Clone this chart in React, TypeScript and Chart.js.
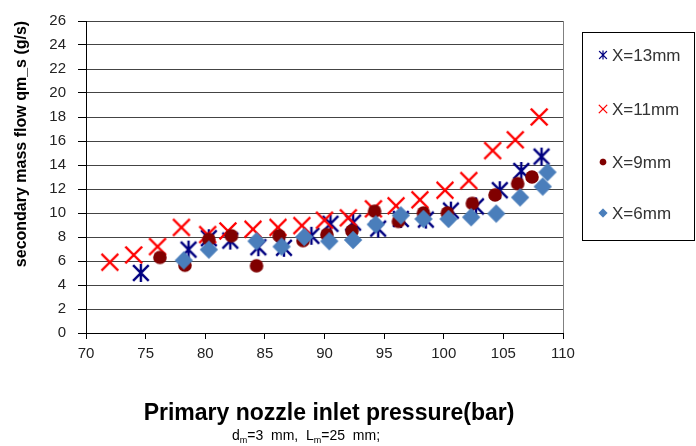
import React, { useEffect, useRef } from "react";
import { Chart, registerables } from "chart.js";
Chart.register(...registerables);

const seriesNames = ["X=13mm", "X=11mm", "X=9mm", "X=6mm"];

const p13 = [74.6, 78.6, 80.3, 82.1, 84.45, 86.6, 88.9, 90.5, 92.4, 94.5, 96.4, 98.5, 100.6, 102.7, 104.7, 106.5, 108.2];
const q13 = [5.0, 6.95, 7.9, 7.7, 7.15, 7.1, 8.1, 9.1, 9.2, 8.7, 9.5, 9.45, 10.2, 10.55, 11.9, 13.5, 14.7];

const p11 = [72.0, 74.0, 76.0, 78.0, 80.2, 81.9, 84.0, 86.1, 88.1, 90.0, 92.0, 94.1, 96.0, 98.0, 100.1, 102.1, 104.1, 106.0, 108.0];
const q11 = [5.9, 6.5, 7.2, 8.8, 8.2, 8.5, 8.65, 8.8, 8.95, 9.4, 9.6, 10.35, 10.6, 11.1, 11.9, 12.7, 15.2, 16.1, 18.0];

const p9 = [76.2, 78.3, 80.3, 82.2, 84.3, 86.2, 88.2, 90.2, 92.3, 94.2, 96.2, 98.3, 100.3, 102.4, 104.3, 106.2, 107.4];
const q9 = [6.3, 5.65, 7.8, 8.1, 5.6, 8.1, 7.7, 8.2, 8.5, 10.15, 9.3, 10.0, 10.0, 10.8, 11.5, 12.45, 13.0];

const p6 = [78.2, 80.3, 84.3, 86.4, 88.3, 90.4, 92.4, 94.3, 96.4, 98.3, 100.4, 102.3, 104.4, 106.4, 108.3, 108.7];
const q6 = [6.05, 6.95, 7.65, 7.2, 8.0, 7.65, 7.75, 9.05, 9.8, 9.5, 9.5, 9.65, 9.95, 11.3, 12.2, 13.4];

const xMin = 70, xMax = 110, xStep = 5;
const yMin = 0, yMax = 26, yStep = 2;

const yTitle = "secondary mass flow qm_s (g/s)";
const xTitle = "Primary nozzle inlet pressure(bar)";
const subParts: [string, boolean][] = [["d", false], ["m", true], ["=3  mm,  L", false], ["m", true], ["=25  mm;", false]];

const FONT = "'Liberation Sans', Arial, sans-serif";
const NAVY = "#000080";
const RED = "#FF0000";
const MAROON = "#800000";
const STEEL = "#4A7EBB";

function makeMarker(kind: string, size: number): HTMLCanvasElement {
  const c = document.createElement("canvas");
  c.width = size;
  c.height = size;
  const g = c.getContext("2d")!;
  const m = size / 2;
  if (kind === "star") {
    g.strokeStyle = NAVY;
    g.lineWidth = size * 0.12;
    const a = size * 0.39;
    g.beginPath();
    g.moveTo(m - a, m - a); g.lineTo(m + a, m + a);
    g.moveTo(m + a, m - a); g.lineTo(m - a, m + a);
    g.moveTo(m, m - a * 1.15); g.lineTo(m, m + a * 1.15);
    g.stroke();
  } else if (kind === "x") {
    g.strokeStyle = RED;
    g.lineWidth = size * 0.11;
    const a = size * 0.42;
    g.beginPath();
    g.moveTo(m - a, m - a); g.lineTo(m + a, m + a);
    g.moveTo(m + a, m - a); g.lineTo(m - a, m + a);
    g.stroke();
  } else if (kind === "circle") {
    g.fillStyle = MAROON;
    g.beginPath();
    g.arc(m, m, size * 0.34, 0, Math.PI * 2);
    g.fill();
  } else {
    g.fillStyle = STEEL;
    const a = size * 0.46;
    g.beginPath();
    g.moveTo(m, m - a); g.lineTo(m + a, m); g.lineTo(m, m + a); g.lineTo(m - a, m);
    g.closePath();
    g.fill();
  }
  return c;
}

export default function App() {
  const ref = useRef<HTMLCanvasElement>(null);
  useEffect(() => {
    const kinds = ["star", "x", "circle", "diamond"];
    const big = kinds.map((k) => makeMarker(k, 20));
    const pairs = [[p13, q13], [p11, q11], [p9, q9], [p6, q6]];
    const decor = {
      id: "decor",
      afterDraw(chart: any) {
        const ctx = chart.ctx;
        const ca = chart.chartArea;
        ctx.save();
        ctx.strokeStyle = "#808080";
        ctx.lineWidth = 1;
        ctx.beginPath();
        ctx.moveTo(Math.round(ca.right) + 0.5, ca.top);
        ctx.lineTo(Math.round(ca.right) + 0.5, ca.bottom);
        ctx.stroke();

        ctx.fillStyle = "#000";
        ctx.save();
        ctx.translate(22, 144);
        ctx.rotate(-Math.PI / 2);
        ctx.font = `bold 16px ${FONT}`;
        ctx.textAlign = "center";
        ctx.textBaseline = "middle";
        ctx.fillText(yTitle, 0, 0);
        ctx.restore();

        ctx.font = `bold 23px ${FONT}`;
        ctx.textAlign = "center";
        ctx.textBaseline = "alphabetic";
        ctx.fillText(xTitle, 329, 420);

        const mainF = `14px ${FONT}`;
        const subF = `9px ${FONT}`;
        let total = 0;
        for (const [t, s] of subParts) {
          ctx.font = s ? subF : mainF;
          total += ctx.measureText(t).width;
        }
        let x = 306 - total / 2;
        ctx.textAlign = "left";
        for (const [t, s] of subParts) {
          ctx.font = s ? subF : mainF;
          ctx.fillText(t, x, s ? 443 : 440);
          x += ctx.measureText(t).width;
        }

        ctx.strokeStyle = "#000";
        ctx.strokeRect(582.5, 32.5, 112, 208);
        const rows = [55, 109, 162, 213];
        ctx.font = `17px ${FONT}`;
        ctx.fillStyle = "#333";
        ctx.textBaseline = "middle";
        rows.forEach((ry, i) => {
          ctx.drawImage(big[i], 603 - 5, ry - 5, 10, 10);
          ctx.fillText(seriesNames[i], 612, ry + 1);
        });
        ctx.restore();
      },
    };
    const chart = new Chart(ref.current!, {
      type: "scatter",
      data: {
        datasets: seriesNames.map((name, i) => ({
          label: name,
          data: pairs[i][0].map((px, j) => ({ x: px, y: pairs[i][1][j] })),
          pointStyle: big[i] as any,
          pointRadius: 10,
          order: 4 - i,
        })),
      },
      options: {
        responsive: false,
        animation: false,
        devicePixelRatio: 1,
        layout: { padding: { left: 0, top: 21, right: 133, bottom: 0 } },
        plugins: { legend: { display: false }, tooltip: { enabled: false } },
        scales: {
          x: {
            type: "linear",
            min: xMin,
            max: xMax,
            ticks: { stepSize: xStep, color: "#222", font: { family: FONT, size: 15 }, padding: 6 },
            grid: { drawOnChartArea: false, tickLength: 6, color: "#000", tickColor: "#000" },
            border: { color: "#000", width: 1 },
            afterFit: (s: any) => { s.height = 113; },
          },
          y: {
            type: "linear",
            min: yMin,
            max: yMax,
            ticks: { stepSize: yStep, color: "#222", font: { family: FONT, size: 15 }, padding: 12 },
            grid: { color: "#444", tickLength: 8, tickColor: "#000" },
            border: { color: "#000", width: 1 },
            afterFit: (s: any) => { s.width = 86; },
          },
        },
      },
      plugins: [decor],
    });
    return () => chart.destroy();
  }, []);
  return (
    <div style={{ position: "absolute", left: 0, top: 0, width: 696, height: 446, background: "#fff" }}>
      <canvas ref={ref} width={696} height={446} />
    </div>
  );
}
